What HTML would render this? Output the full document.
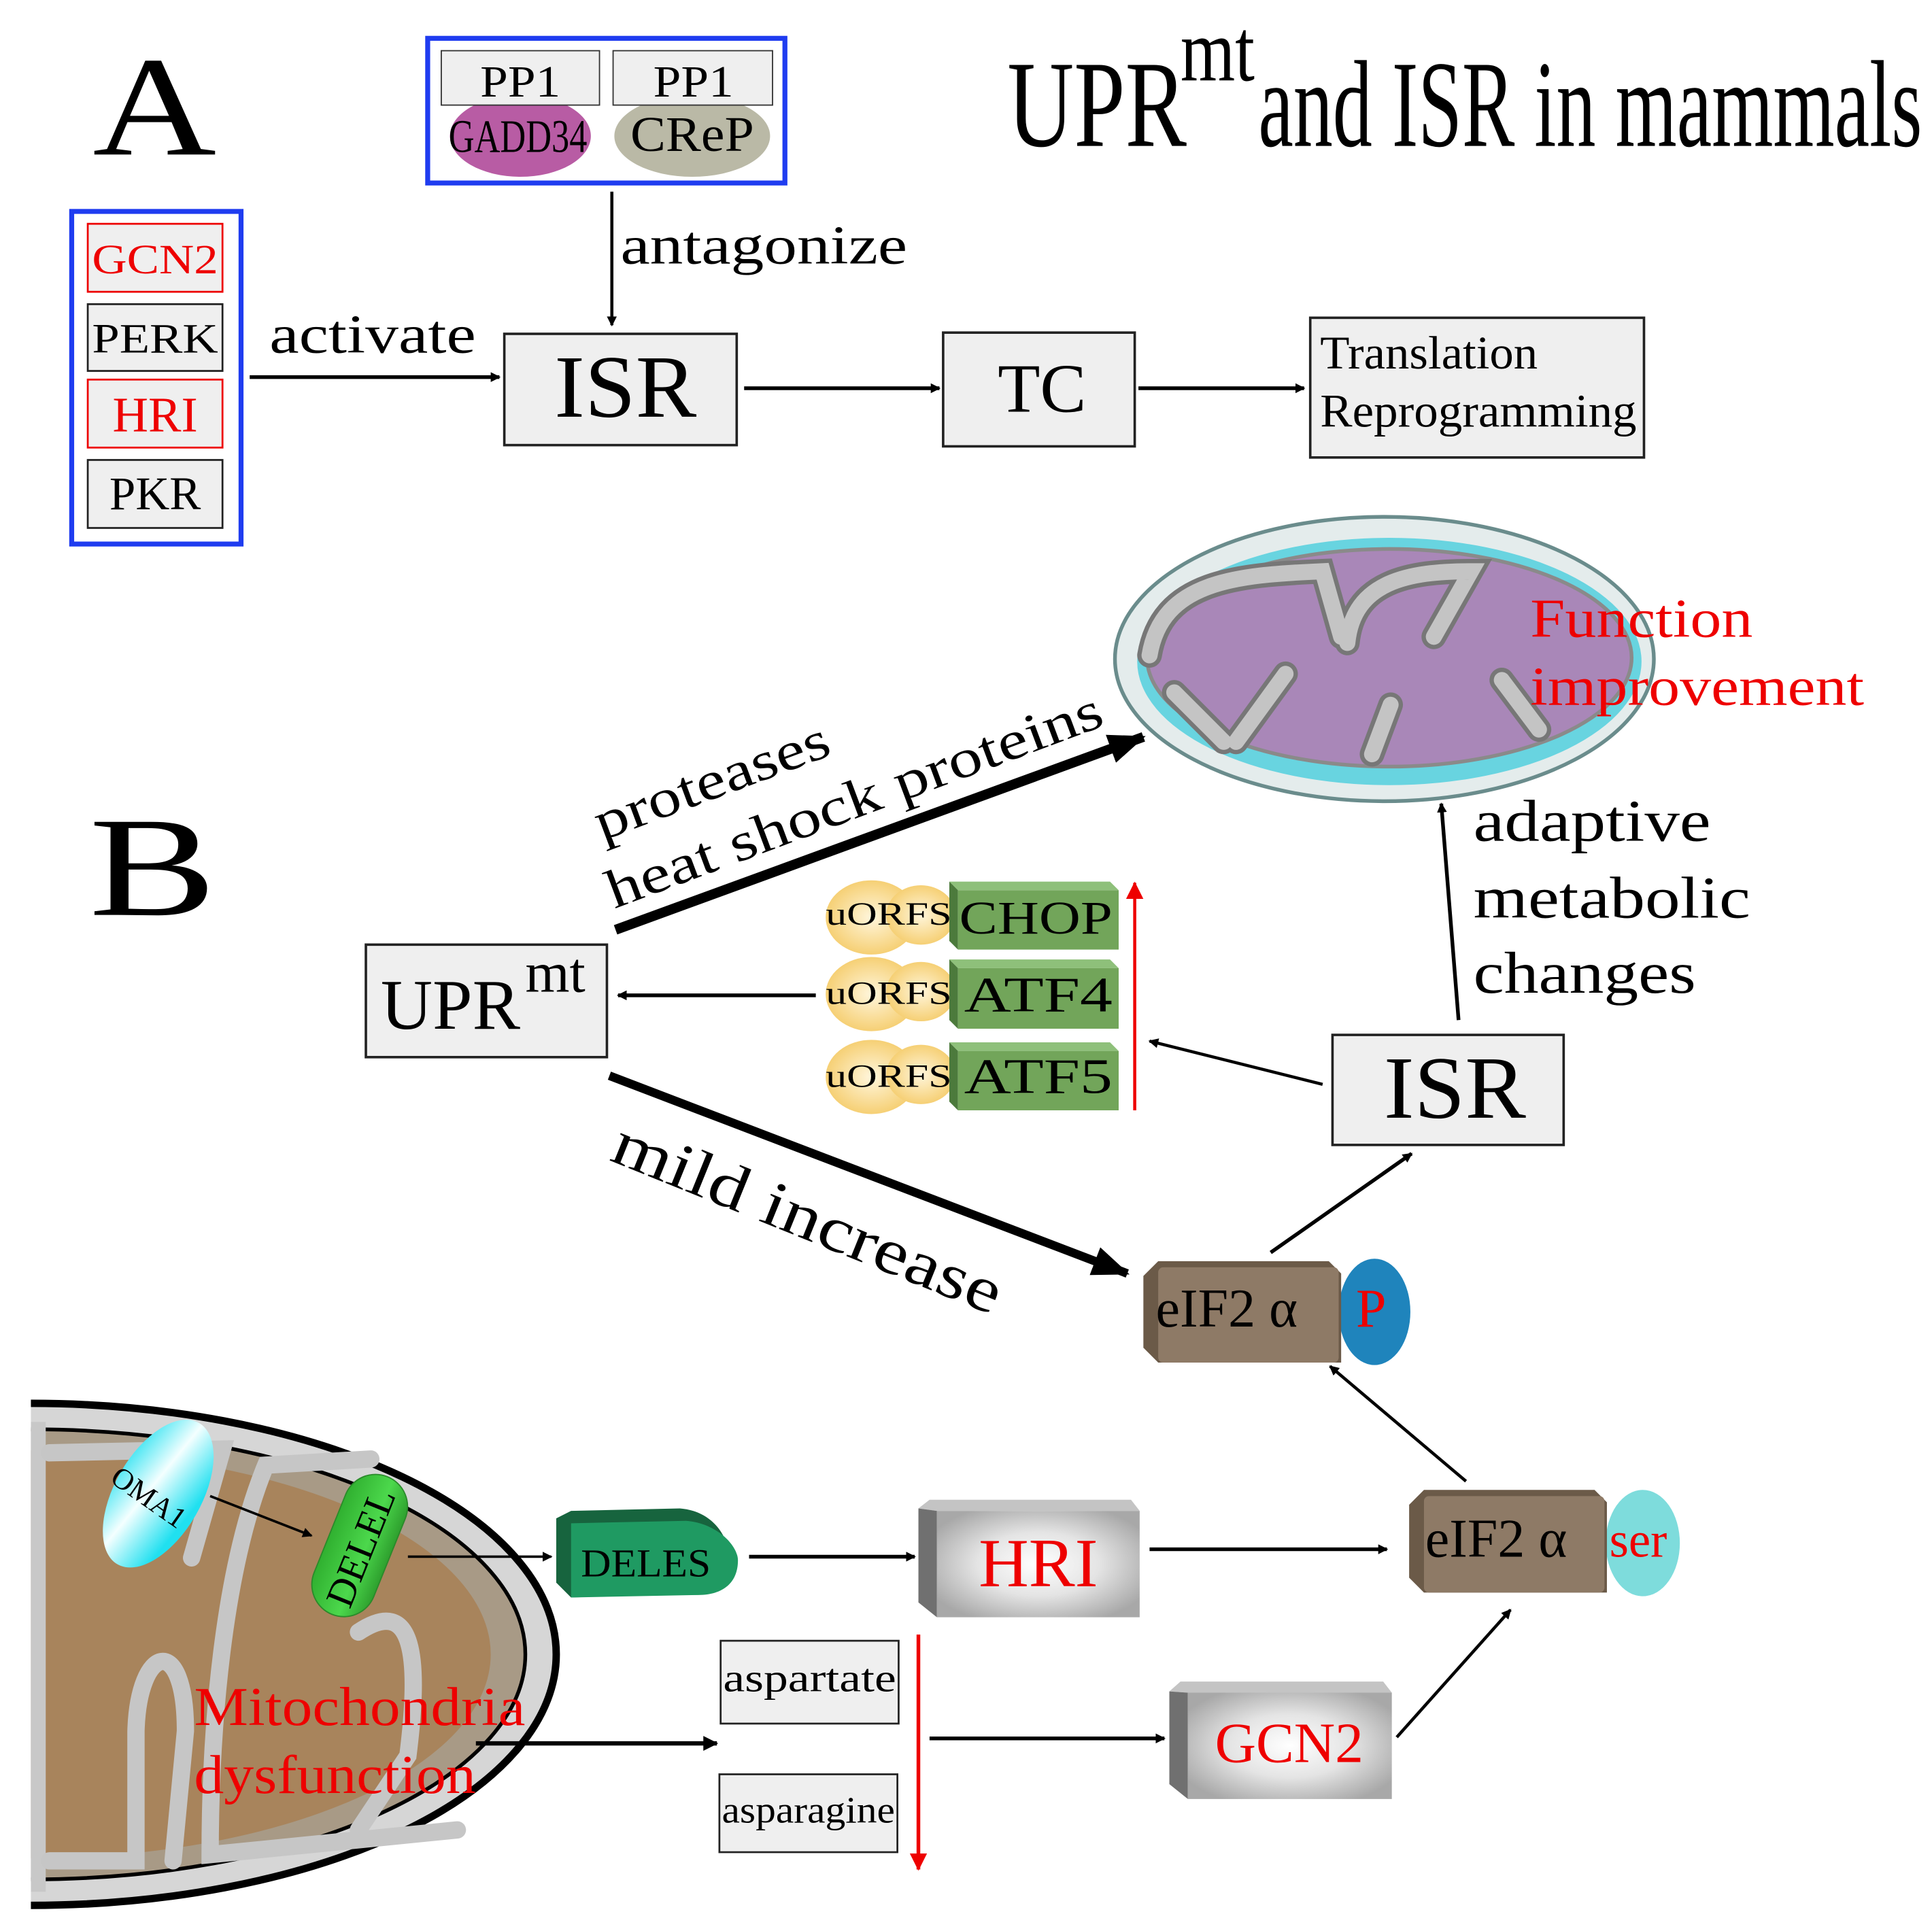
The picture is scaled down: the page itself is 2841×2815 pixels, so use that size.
<!DOCTYPE html>
<html><head><meta charset="utf-8"><style>
html,body{margin:0;padding:0;background:#fff;}
svg{display:block;}
text{font-family:"Liberation Serif","DejaVu Serif",serif;}
</style></head><body>
<svg width="2841" height="2815" viewBox="0 0 1563 1548" preserveAspectRatio="none" xmlns="http://www.w3.org/2000/svg">
<defs>
<marker id="ah" markerWidth="8" markerHeight="8" refX="7" refY="4" orient="auto" markerUnits="userSpaceOnUse"><path d="M0,0 L8,4 L0,8 z" fill="#000"/></marker>
<marker id="ahs" markerWidth="12" markerHeight="12" refX="11" refY="6" orient="auto" markerUnits="userSpaceOnUse"><path d="M0,0 L12,6 L0,12 z" fill="#000"/></marker>
<marker id="ahb" markerWidth="30" markerHeight="24" refX="28" refY="12" orient="auto" markerUnits="userSpaceOnUse"><path d="M0,0 L30,12 L0,24 z" fill="#000"/></marker>
<marker id="ahr" markerWidth="14" markerHeight="14" refX="13" refY="7" orient="auto" markerUnits="userSpaceOnUse"><path d="M0,0 L14,7 L0,14 z" fill="#e00"/></marker>
<radialGradient id="gray" cx="50%" cy="50%" r="60%"><stop offset="0" stop-color="#fff"/><stop offset="0.5" stop-color="#e4e4e4"/><stop offset="1" stop-color="#a8a8a8"/></radialGradient>
<linearGradient id="cyan" x1="0" y1="0" x2="1" y2="0.3"><stop offset="0" stop-color="#20e0f0"/><stop offset="0.5" stop-color="#f4ffff"/><stop offset="1" stop-color="#20e0f0"/></linearGradient>
<linearGradient id="grn" x1="0" y1="0" x2="1" y2="0"><stop offset="0" stop-color="#30b030"/><stop offset="0.6" stop-color="#4cd84c"/><stop offset="1" stop-color="#2ea02e"/></linearGradient>
<radialGradient id="yel" cx="50%" cy="50%" r="60%"><stop offset="0" stop-color="#fff6dc"/><stop offset="1" stop-color="#f4c860"/></radialGradient>
<clipPath id="lm"><rect x="25" y="1120" width="445" height="430"/></clipPath>
</defs>

<!-- A -->
<text x="75" y="125" font-size="115" textLength="100" lengthAdjust="spacingAndGlyphs">A</text>
<rect x="58" y="171" width="137" height="269" fill="#fff" stroke="#1f3cf0" stroke-width="4"/>
<rect x="71" y="181" width="109" height="55" fill="#efefef" stroke="#e00" stroke-width="1.5"/>
<text x="125.5" y="221" font-size="34" fill="#e00" text-anchor="middle" textLength="102" lengthAdjust="spacingAndGlyphs">GCN2</text>
<rect x="71" y="246" width="109" height="54" fill="#efefef" stroke="#222" stroke-width="1.5"/>
<text x="125.5" y="285" font-size="34" text-anchor="middle" textLength="102" lengthAdjust="spacingAndGlyphs">PERK</text>
<rect x="71" y="307" width="109" height="55" fill="#efefef" stroke="#e00" stroke-width="1.5"/>
<text x="125.5" y="349" font-size="40" fill="#e00" text-anchor="middle">HRI</text>
<rect x="71" y="372" width="109" height="55" fill="#efefef" stroke="#222" stroke-width="1.5"/>
<text x="125.5" y="412" font-size="38" text-anchor="middle">PKR</text>

<rect x="346" y="31" width="289" height="117" fill="#fff" stroke="#1f3cf0" stroke-width="4"/>
<ellipse cx="421" cy="110" rx="57" ry="33" fill="#b85ca4"/>
<ellipse cx="560" cy="110" rx="63" ry="33" fill="#bab9a6"/>
<rect x="357" y="41" width="128" height="44" fill="#efefef" stroke="#333" stroke-width="1"/>
<rect x="496" y="41" width="129" height="44" fill="#efefef" stroke="#333" stroke-width="1"/>
<text x="421" y="78" font-size="36" text-anchor="middle" textLength="65" lengthAdjust="spacingAndGlyphs">PP1</text>
<text x="561" y="78" font-size="36" text-anchor="middle" textLength="65" lengthAdjust="spacingAndGlyphs">PP1</text>
<text x="419" y="123" font-size="38" text-anchor="middle" textLength="112" lengthAdjust="spacingAndGlyphs">GADD34</text>
<text x="560" y="122" font-size="40" text-anchor="middle" textLength="100" lengthAdjust="spacingAndGlyphs">CReP</text>

<line x1="495" y1="155" x2="495" y2="263" stroke="#000" stroke-width="2.5" marker-end="url(#ah)"/>
<text x="502" y="213" font-size="44" textLength="232" lengthAdjust="spacingAndGlyphs">antagonize</text>
<text x="218" y="285" font-size="44" textLength="167" lengthAdjust="spacingAndGlyphs">activate</text>
<line x1="202" y1="305" x2="404" y2="305" stroke="#000" stroke-width="3" marker-end="url(#ah)"/>

<rect x="408" y="270" width="188" height="90" fill="#efefef" stroke="#222" stroke-width="2"/>
<text x="506" y="337" font-size="72" text-anchor="middle" textLength="115" lengthAdjust="spacingAndGlyphs">ISR</text>
<line x1="602" y1="314" x2="760" y2="314" stroke="#000" stroke-width="3" marker-end="url(#ah)"/>
<rect x="763" y="269" width="155" height="92" fill="#efefef" stroke="#222" stroke-width="2"/>
<text x="843" y="333" font-size="56" text-anchor="middle">TC</text>
<line x1="921" y1="314" x2="1055" y2="314" stroke="#000" stroke-width="3" marker-end="url(#ah)"/>
<rect x="1060" y="257" width="270" height="113" fill="#efefef" stroke="#222" stroke-width="2"/>
<text x="1068" y="298" font-size="38" textLength="176" lengthAdjust="spacingAndGlyphs">Translation</text>
<text x="1068" y="345" font-size="38" textLength="256" lengthAdjust="spacingAndGlyphs">Reprogramming</text>

<text x="815" y="118" font-size="100" textLength="145" lengthAdjust="spacingAndGlyphs">UPR</text>
<text x="955" y="65" font-size="72" textLength="60" lengthAdjust="spacingAndGlyphs">mt</text>
<text x="1018" y="118" font-size="100" textLength="537" lengthAdjust="spacingAndGlyphs">and ISR in mammals</text>

<!-- B -->
<text x="72" y="740" font-size="115" textLength="103" lengthAdjust="spacingAndGlyphs">B</text>

<!-- top mitochondrion -->
<ellipse cx="1120" cy="533" rx="218" ry="115" fill="#e4ecec" stroke="#6a8c8c" stroke-width="3"/>
<ellipse cx="1124" cy="535" rx="204" ry="100" fill="#68d4e0"/>
<ellipse cx="1124" cy="532" rx="196" ry="88" fill="#a987b8" stroke="#8a8a8a" stroke-width="3"/>
<g fill="none" stroke-linecap="round">
<path d="M930,530 C940,470 1000,465 1070,462 L1085,515 M1090,520 C1095,470 1140,462 1190,462 L1160,515" stroke="#777" stroke-width="20"/>
<path d="M930,530 C940,470 1000,465 1070,462 L1085,515 M1090,520 C1095,470 1140,462 1190,462 L1160,515" stroke="#c4c4c4" stroke-width="13"/>
<path d="M1000,600 L1040,545 M1110,610 L1125,570 M1215,550 L1245,590 M950,560 L990,600" stroke="#777" stroke-width="20"/>
<path d="M1000,600 L1040,545 M1110,610 L1125,570 M1215,550 L1245,590 M950,560 L990,600" stroke="#c4c4c4" stroke-width="13"/>
</g>
<text x="1238" y="515" font-size="44" fill="#e00" textLength="180" lengthAdjust="spacingAndGlyphs">Function</text>
<text x="1238" y="570" font-size="44" fill="#e00" textLength="270" lengthAdjust="spacingAndGlyphs">improvement</text>

<line x1="498" y1="752" x2="925" y2="596" stroke="#000" stroke-width="8" marker-end="url(#ahb)"/>
<text transform="translate(487,680) rotate(-20.5)" font-size="44" textLength="200" lengthAdjust="spacingAndGlyphs">proteases</text>
<text transform="translate(497,735) rotate(-20.5)" font-size="44" textLength="425" lengthAdjust="spacingAndGlyphs">heat shock proteins</text>

<rect x="296" y="764" width="195" height="91" fill="#efefef" stroke="#222" stroke-width="2"/>
<text x="308" y="832" font-size="58">UPR</text>
<text x="425" y="802" font-size="46">mt</text>
<line x1="660" y1="805" x2="500" y2="805" stroke="#000" stroke-width="3" marker-end="url(#ah)"/>

<!-- uORFs + green boxes -->
<g>
<ellipse cx="705" cy="742" rx="37" ry="30" fill="url(#yel)"/><ellipse cx="745" cy="740" rx="28" ry="24" fill="url(#yel)"/>
<ellipse cx="705" cy="804" rx="37" ry="30" fill="url(#yel)"/><ellipse cx="745" cy="802" rx="28" ry="24" fill="url(#yel)"/>
<ellipse cx="705" cy="871" rx="37" ry="30" fill="url(#yel)"/><ellipse cx="745" cy="869" rx="28" ry="24" fill="url(#yel)"/>
<polygon points="768,713 898,713 905,720 775,720" fill="#8ec07a"/><polygon points="768,713 775,720 775,768 768,761" fill="#4c7a3c"/><rect x="775" y="720" width="130" height="48" fill="#72a55a"/>
<polygon points="768,776 898,776 905,783 775,783" fill="#8ec07a"/><polygon points="768,776 775,783 775,832 768,825" fill="#4c7a3c"/><rect x="775" y="783" width="130" height="49" fill="#72a55a"/>
<polygon points="768,843 898,843 905,850 775,850" fill="#8ec07a"/><polygon points="768,843 775,850 775,898 768,891" fill="#4c7a3c"/><rect x="775" y="850" width="130" height="48" fill="#72a55a"/>
<text x="668" y="748" font-size="26" textLength="102" lengthAdjust="spacingAndGlyphs">uORFS</text>
<text x="668" y="812" font-size="26" textLength="102" lengthAdjust="spacingAndGlyphs">uORFS</text>
<text x="668" y="879" font-size="26" textLength="102" lengthAdjust="spacingAndGlyphs">uORFS</text>
<text x="776" y="755" font-size="38" textLength="124" lengthAdjust="spacingAndGlyphs">CHOP</text>
<text x="780" y="818" font-size="40" textLength="120" lengthAdjust="spacingAndGlyphs">ATF4</text>
<text x="780" y="884" font-size="40" textLength="120" lengthAdjust="spacingAndGlyphs">ATF5</text>
</g>
<line x1="918" y1="898" x2="918" y2="714" stroke="#e00" stroke-width="2.5" marker-end="url(#ahr)"/>

<rect x="1078" y="837" width="187" height="89" fill="#efefef" stroke="#222" stroke-width="2"/>
<text x="1177" y="904" font-size="72" text-anchor="middle" textLength="115" lengthAdjust="spacingAndGlyphs">ISR</text>
<line x1="1070" y1="877" x2="930" y2="842" stroke="#000" stroke-width="2.5" marker-end="url(#ah)"/>
<line x1="1180" y1="825" x2="1166" y2="650" stroke="#000" stroke-width="3" marker-end="url(#ah)"/>
<text x="1192" y="680" font-size="48" textLength="192" lengthAdjust="spacingAndGlyphs">adaptive</text>
<text x="1192" y="742" font-size="48" textLength="224" lengthAdjust="spacingAndGlyphs">metabolic</text>
<text x="1192" y="803" font-size="48" textLength="180" lengthAdjust="spacingAndGlyphs">changes</text>

<line x1="493" y1="870" x2="912" y2="1030" stroke="#000" stroke-width="7" marker-end="url(#ahb)"/>
<text transform="translate(492,938) rotate(22)" font-size="52" textLength="335" lengthAdjust="spacingAndGlyphs">mild increase</text>

<!-- eIF2a P -->
<ellipse cx="1112" cy="1061" rx="29" ry="43" fill="#1f84bc"/>
<path d="M925,1032 L937,1020 L1075,1020 L1085,1030 L1085,1102 L937,1102 L925,1090 Z" fill="#6b5a48"/>
<rect x="937" y="1025" width="146" height="77" rx="4" fill="#8e7a66"/>
<text x="935" y="1073" font-size="44">eIF2 α</text>
<text x="1097" y="1073" font-size="44" fill="#e00">P</text>
<line x1="1028" y1="1013" x2="1142" y2="933" stroke="#000" stroke-width="3" marker-end="url(#ah)"/>
<line x1="1186" y1="1198" x2="1076" y2="1105" stroke="#000" stroke-width="2.5" marker-end="url(#ah)"/>

<!-- eIF2a ser -->
<ellipse cx="1329" cy="1248" rx="30" ry="43" fill="#7edcdc"/>
<path d="M1140,1217 L1152,1205 L1290,1205 L1300,1215 L1300,1288 L1152,1288 L1140,1276 Z" fill="#6b5a48"/>
<rect x="1152" y="1210" width="146" height="78" rx="4" fill="#8e7a66"/>
<text x="1153" y="1259" font-size="44">eIF2 α</text>
<text x="1302" y="1259" font-size="40" fill="#e00">ser</text>

<!-- HRI 3D -->
<polygon points="743,1220 752,1213 915,1213 922,1222 758,1222" fill="#c4c4c4"/>
<polygon points="743,1220 758,1222 758,1308 743,1296" fill="#707070"/>
<rect x="758" y="1222" width="164" height="86" fill="url(#gray)"/>
<text x="840" y="1283" font-size="56" fill="#e00" text-anchor="middle">HRI</text>
<line x1="930" y1="1253" x2="1122" y2="1253" stroke="#000" stroke-width="3" marker-end="url(#ah)"/>

<!-- GCN2 3D -->
<polygon points="946,1368 955,1360 1119,1360 1126,1369 961,1369" fill="#c4c4c4"/>
<polygon points="946,1368 961,1369 961,1455 946,1443" fill="#707070"/>
<rect x="961" y="1369" width="165" height="86" fill="url(#gray)"/>
<text x="1043" y="1425" font-size="46" fill="#e00" text-anchor="middle">GCN2</text>
<line x1="1130" y1="1405" x2="1222" y2="1302" stroke="#000" stroke-width="2.5" marker-end="url(#ah)"/>

<!-- DELES -->
<path d="M450,1228 L462,1222 L550,1220 C575,1222 588,1240 590,1258 L578,1288 L462,1292 L450,1280 Z" fill="#17643e"/>
<path d="M462,1232 L555,1230 C580,1232 597,1250 597,1262 C597,1280 585,1290 565,1290 L462,1292 Z" fill="#1f9a62"/>
<text x="470" y="1275" font-size="32" textLength="105" lengthAdjust="spacingAndGlyphs">DELES</text>
<line x1="606" y1="1259" x2="740" y2="1259" stroke="#000" stroke-width="3" marker-end="url(#ah)"/>

<!-- left mitochondrion -->
<g clip-path="url(#lm)">
<ellipse cx="25" cy="1338" rx="425" ry="203" fill="#d6d6d6" stroke="#000" stroke-width="6"/>
<ellipse cx="25" cy="1338" rx="400" ry="182" fill="#a89a86" stroke="#000" stroke-width="3"/>
<ellipse cx="25" cy="1338" rx="372" ry="165" fill="#a8845c"/>
<rect x="25" y="1150" width="12" height="380" fill="#c8c8c8"/>
<g fill="none" stroke-linecap="round">
<path d="M40,1175 L180,1172 L155,1260 M40,1505 L110,1505 L110,1400 C112,1330 150,1320 150,1400 L140,1505 M300,1180 L215,1185 C180,1270 170,1400 170,1500 L370,1480 M290,1320 C335,1290 340,1340 330,1420 L290,1480" stroke="#c6c6c6" stroke-width="14"/>
</g>
</g>
<ellipse cx="128" cy="1208" rx="35" ry="66" transform="rotate(30 128 1208)" fill="url(#cyan)"/>
<text transform="translate(88,1198) rotate(35)" font-size="24">OMA1</text>
<line x1="170" y1="1210" x2="252" y2="1242" stroke="#000" stroke-width="2" marker-end="url(#ah)"/>
<rect x="265" y="1190" width="52" height="120" rx="26" transform="rotate(22 291 1250)" fill="url(#grn)" stroke="#2a8a2a" stroke-width="1"/>
<text transform="translate(283,1302) rotate(-68)" font-size="32" textLength="100" lengthAdjust="spacingAndGlyphs">DELEL</text>
<line x1="330" y1="1259" x2="446" y2="1259" stroke="#000" stroke-width="2" marker-end="url(#ah)"/>
<text x="157" y="1395" font-size="44" fill="#e00" textLength="268" lengthAdjust="spacingAndGlyphs">Mitochondria</text>
<text x="157" y="1450" font-size="44" fill="#e00" textLength="228" lengthAdjust="spacingAndGlyphs">dysfunction</text>
<line x1="385" y1="1410" x2="580" y2="1410" stroke="#000" stroke-width="3.5" marker-end="url(#ahs)"/>

<rect x="583" y="1327" width="144" height="67" fill="#efefef" stroke="#222" stroke-width="1.5"/>
<text x="655" y="1368" font-size="32" text-anchor="middle" textLength="140" lengthAdjust="spacingAndGlyphs">aspartate</text>
<rect x="582" y="1435" width="144" height="63" fill="#efefef" stroke="#222" stroke-width="1.5"/>
<text x="654" y="1474" font-size="30" text-anchor="middle" textLength="140" lengthAdjust="spacingAndGlyphs">asparagine</text>
<line x1="743" y1="1322" x2="743" y2="1512" stroke="#e00" stroke-width="3" marker-end="url(#ahr)"/>
<line x1="752" y1="1406" x2="942" y2="1406" stroke="#000" stroke-width="3" marker-end="url(#ah)"/>
</svg>
</body></html>
